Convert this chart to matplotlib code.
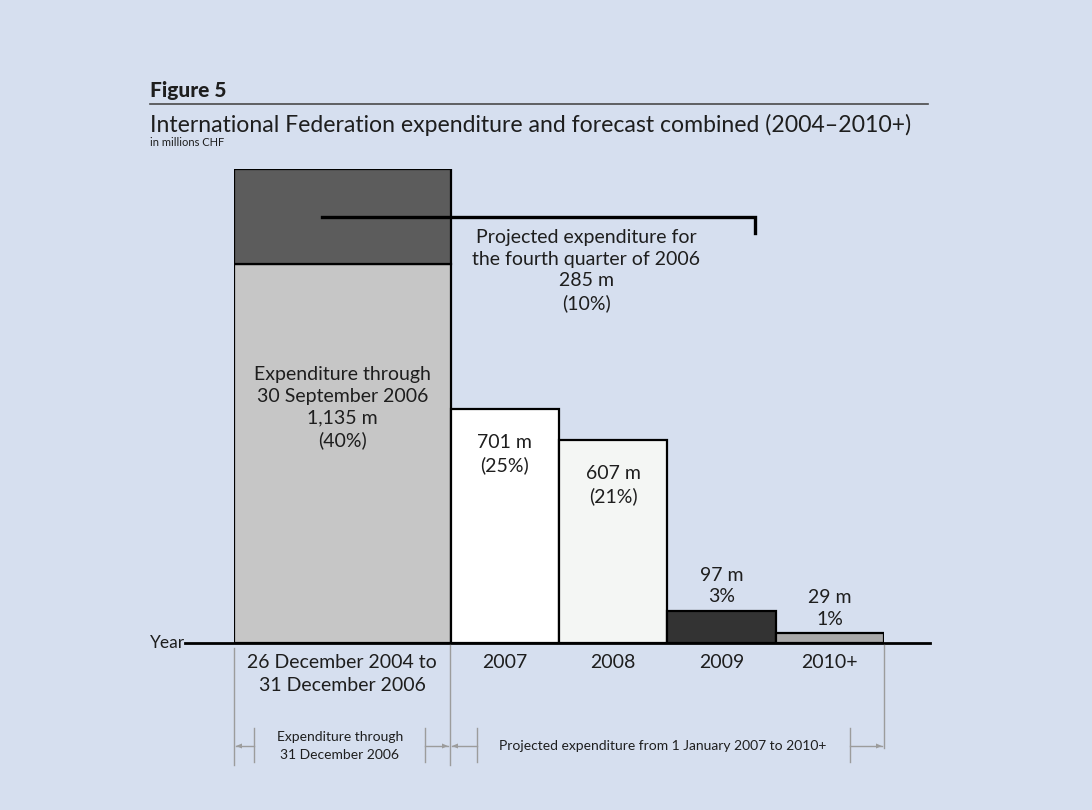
import matplotlib
matplotlib.use("Agg")
import matplotlib.pyplot as plt
from matplotlib.transforms import Affine2D

# ---- data ----
through_sep_2006 = 1135      # expenditure through 30 September 2006 (m CHF)
q4_2006 = 285                # projected Q4 2006
proj_years = ["2007", "2008", "2009", "2010+"]
proj_values = [701, 607, 97, 29]
proj_pcts = ["(25%)", "(21%)", "3%", "1%"]
first_label = "26 December 2004 to\n31 December 2006"

W, H = 1092, 810
BG = "#D6DFEF"
TXT = "#1E1E1E"
FONT = "Lato"
plt.rcParams["font.family"] = [FONT, "DejaVu Sans"]

fig = plt.figure(figsize=(W / 100, H / 100), dpi=100, facecolor=BG)
px = Affine2D().scale(1 / W, -1 / H).translate(0, 1) + fig.transFigure

# axes mapped so that bars land in the reference location
x0, x1, ybase, ytop = 234, 884, 643, 169
ax = fig.add_axes([x0 / W, 1 - ybase / H, (x1 - x0) / W, (ybase - ytop) / H])
ax.set_xlim(0, 6)
ax.set_ylim(0, through_sep_2006 + q4_2006)
ax.axis("off")
ax.patch.set_visible(False)

LS = 1.32
# ---- bars ----
ax.bar(1, through_sep_2006, width=2, color="#C6C6C6", edgecolor="black", lw=1.6, zorder=2)
ax.bar(1, q4_2006, width=2, bottom=through_sep_2006, color="#5C5C5C", edgecolor="black", lw=1.6, zorder=2)
colors = ["#FFFFFF", "#F4F6F4", "#333333", "#A9A9A9"]
xs = [2.5, 3.5, 4.5, 5.5]
ax.bar(xs, proj_values, width=1, color=colors, edgecolor="black", lw=1.6, zorder=2)

# baseline
ax.plot([-0.452, 6.42], [0, 0], color="black", lw=2, clip_on=False, zorder=3)
fig.text(185, 643, "Year", transform=px, ha="right", va="center", fontsize=12.5, color=TXT)

# ---- labels in / above bars ----
ax.text(1, through_sep_2006 * 0.73,
        f"Expenditure through\n30 September 2006\n{through_sep_2006:,} m\n(40%)",
        ha="center", va="top", fontsize=14, color=TXT, linespacing=LS)
for x, v, p in zip(xs, proj_values, proj_pcts):
    if v > 300:
        ax.annotate(f"{v} m\n{p}", xy=(x, v), xytext=(0, -18), textcoords="offset points",
                    ha="center", va="top", fontsize=14, color=TXT, linespacing=LS)
    else:
        ax.annotate(f"{v} m\n{p}", xy=(x, v), xytext=(0, 4), textcoords="offset points",
                    ha="center", va="bottom", fontsize=14, color=TXT, linespacing=LS)

# Q4 2006 leader line and label
ymid = through_sep_2006 + q4_2006 / 2
ax.plot([0.81, 4.81, 4.81], [ymid, ymid, ymid - 48], color="black", lw=2.4,
        clip_on=False, zorder=4, solid_joinstyle="miter")
ax.annotate(f"Projected expenditure for\nthe fourth quarter of 2006\n{q4_2006} m\n(10%)",
            xy=(3.25, ymid), xytext=(0, -9), textcoords="offset points",
            ha="center", va="top", fontsize=14, color=TXT, linespacing=LS)

# ---- category labels ----
ax.annotate(first_label, xy=(1, 0), xytext=(0, -8), textcoords="offset points",
            ha="center", va="top", fontsize=14, color=TXT, linespacing=1.45)
for x, lab in zip(xs, proj_years):
    ax.annotate(lab, xy=(x, 0), xytext=(0, -8), textcoords="offset points",
                ha="center", va="top", fontsize=14, color=TXT)

# ---- titles ----
fig.text(150, 90, "Figure 5", transform=px, ha="left", va="center",
         fontsize=15, fontweight="black", color=TXT)
fig.add_artist(plt.Line2D([150, 928], [104, 104], transform=px, color="#4A4A4A", lw=1.2))
fig.text(150, 125, "International Federation expenditure and forecast combined (2004\u20132010+)",
         transform=px, ha="left", va="center", fontsize=16.6, color=TXT)
fig.text(150, 142, "in millions CHF", transform=px, ha="left", va="center", fontsize=8, color=TXT)

# ---- bottom dimension brackets ----
G = "#9C9C9C"
def vline(x, ya, yb, lw=1.0):
    fig.add_artist(plt.Line2D([x, x], [ya, yb], transform=px, color=G, lw=lw))
def arrow(xa, xb, y=746):
    fig.add_artist(plt.Line2D([xa, xb], [y, y], transform=px, color=G, lw=1.0))
    d = 1 if xb > xa else -1
    fig.add_artist(plt.Polygon([[xb, y], [xb - d * 6, y - 2.5], [xb - d * 6, y + 2.5]],
                               closed=True, transform=px, color=G, lw=0))

vline(234, 648, 765)
vline(450, 645, 765)
vline(884, 645, 748)
for tx in (254, 425, 477, 850):
    vline(tx, 728, 762)
arrow(254, 236)
arrow(425, 448)
arrow(477, 452)
arrow(850, 882)
fig.text(340, 746, "Expenditure through\n31 December 2006", transform=px, ha="center",
         va="center", fontsize=10, color=TXT, linespacing=1.6)
fig.text(663, 746, "Projected expenditure from 1 January 2007 to 2010+", transform=px,
         ha="center", va="center", fontsize=10, color=TXT)

fig.savefig("out.png", dpi=100, facecolor=BG)
